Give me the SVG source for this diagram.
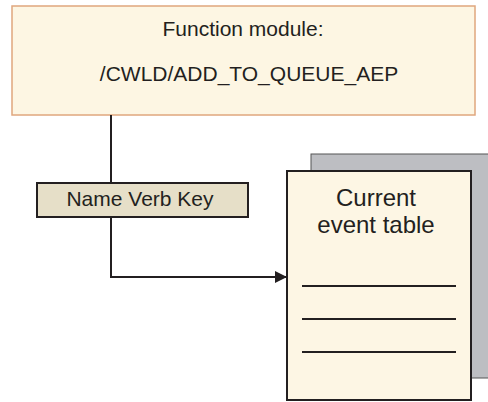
<svg xmlns="http://www.w3.org/2000/svg" width="488" height="402" viewBox="0 0 488 402">
<style>
text{font-family:"Liberation Sans",Arial,sans-serif;fill:#231f20;text-anchor:middle}
.conn{fill:none;stroke:#231f20;stroke-width:2}
</style>
<defs>
<marker id="arr" markerWidth="12" markerHeight="12" refX="12" refY="6" orient="auto" markerUnits="userSpaceOnUse">
<path d="M0,0 L12,6 L0,12 Z" fill="#231f20"/>
</marker>
</defs>
<rect width="488" height="402" fill="#ffffff"/>
<g id="function-module">
<rect x="12" y="6" width="463" height="109" fill="#fdf6e3" stroke="#dfa77e" stroke-width="1.5"/>
<text x="243" y="36" font-size="21">Function module:</text>
<text x="249" y="81" font-size="21">/CWLD/ADD_TO_QUEUE_AEP</text>
</g>
<g id="connectors">
<path class="conn" d="M111,115 V183"/>
<path class="conn" d="M111,217 V277 H287" marker-end="url(#arr)"/>
</g>
<g id="name-verb-key">
<rect x="37" y="183" width="211" height="34" fill="#e6dfc8" stroke="#231f20" stroke-width="2"/>
<text x="140" y="206" font-size="21">Name Verb Key</text>
</g>
<g id="current-event-table">
<rect x="311" y="154" width="180" height="224" fill="#bdbec2" stroke="#555" stroke-width="1"/>
<rect x="287" y="171" width="184" height="229" fill="#fdf6e4" stroke="#231f20" stroke-width="2"/>
<text x="376" y="206" font-size="24">Current</text>
<text x="376" y="233" font-size="24">event table</text>
<path class="conn" d="M302,286 H456 M302,319 H456 M302,352 H456"/>
</g>
</svg>
